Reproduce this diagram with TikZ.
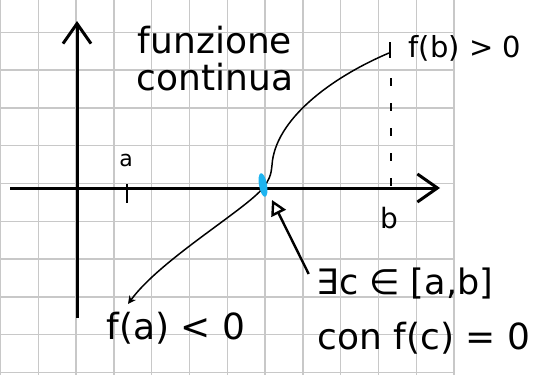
\documentclass[tikz,border=0pt]{standalone}
\usepackage{fontspec}
\setmainfont{DejaVu Sans}
\usetikzlibrary{arrows.meta,positioning,shapes.geometric}
\definecolor{ink}{HTML}{000000}
\definecolor{gridgray}{HTML}{C8C8C8}
\definecolor{marker}{HTML}{1EB4F0}

\begin{document}
\begin{tikzpicture}[x=1pt,y=-1pt,
  gridline/.style={draw=gridgray,line width=1.4pt},
  ax/.style={draw=ink,line width=3pt,-{Straight Barb[length=20pt,width=28pt]}},
  tick/.style={draw=ink,line width=2.6pt},
  graph/.style={draw=ink,line width=1.5pt},
  hand/.style={text=ink,inner sep=0pt,align=left},
  cmark/.style={ellipse,fill=marker,minimum width=8pt,minimum height=24pt,inner sep=0pt,rotate=10},
  arr/.style={-{Triangle[open,length=15pt,width=16pt]},draw=ink,line width=2.4pt}]
\useasboundingbox (0,0) rectangle (540,375);
% squared paper
\foreach \i in {0,...,12} \draw[gridline] ({0.5+37.8*\i},0) -- ++(0,375);
\foreach \j in {0,...,9} \draw[gridline] (0,{32.3+37.8*\j}) -- ++(455,0);
% axes
\coordinate (xs) at (10,188); \coordinate (xe) at (440,188);
\coordinate (ys) at (77,318); \coordinate (ye) at (77,21);
\draw[ax] (ys) -- (ye);
\draw[ax] (xs) -- (xe);
% a and b
\draw[tick] (127,184) -- (127,203);
\node[hand,font=\fontsize{22}{24}\selectfont] (la) at (126,160) {a};
\draw[tick,line width=2pt] (390,42) -- (390,58);
\draw[graph,dash pattern=on 8pt off 17pt] (391,78) -- (391,196);
\node[hand,font=\fontsize{28}{30}\selectfont] (lb) at (389,218) {b};
% the function
\coordinate (fbpt) at (389,53);
\coordinate (cpt) at (263,188);
\coordinate (fapt) at (128,304);
\draw[graph,-{Stealth[length=8pt,width=8pt]}] (fbpt)
  .. controls (330,78) and (275,120) .. (272,165)
  .. controls (271,176) and (269,180) .. (cpt)
  .. controls (245,210) and (160,260) .. (fapt);
\node[cmark] (c) at (263,185) {};
% labels
\node[hand,font=\fontsize{36}{38}\selectfont] (fun) at (215,40) {funzione};
\node[hand,font=\fontsize{36}{38}\selectfont,below=9pt of fun] (cont) {continua};
\node[hand,font=\fontsize{29}{31}\selectfont] (fb) at (465,48) {f(b) > 0};
\node[hand,font=\fontsize{36}{38}\selectfont] (fa) at (176,328) {f(a) < 0};
\node[hand,font=\fontsize{35}{37}\selectfont] (exists) at (405,284) {∃c ∈ [a,b]};
\node[hand,font=\fontsize{36}{38}\selectfont] (con) at (424,338) {con f(c) = 0};
\coordinate (ctip) at (272,200);
\draw[arr] ([shift={(-8,-10)}]exists.west) -- (ctip);
\end{tikzpicture}
\end{document}
